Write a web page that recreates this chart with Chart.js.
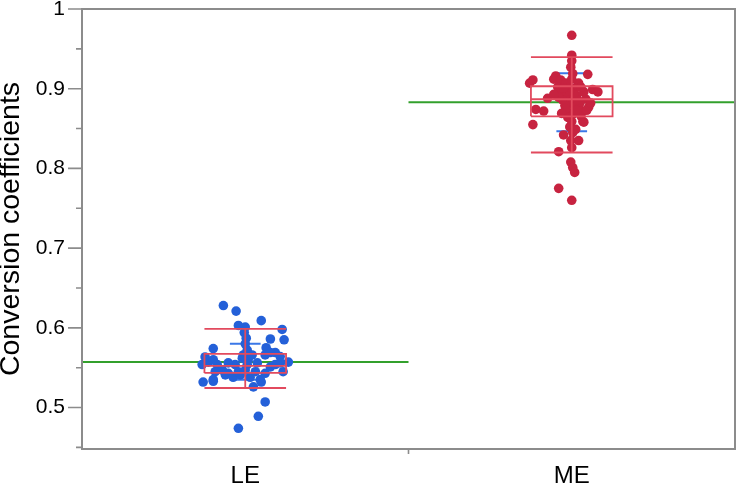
<!DOCTYPE html>
<html>
<head>
<meta charset="utf-8">
<script src="https://cdn.jsdelivr.net/npm/chart.js@4"></script>
<style>
  html, body { margin: 0; padding: 0; background: #fff; }
  #wrap { width: 737px; height: 488px; }
</style>
</head>
<body>
<div id="wrap"><canvas id="chart"></canvas></div>
<script>
// ================= DATA =================
const categories = ["LE", "ME"];

// jitter is the horizontal offset inside a category (1 = full category width)
const leValues = [0.628, 0.621, 0.609, 0.603, 0.601, 0.598, 0.585, 0.586, 0.574, 0.575,
  0.569, 0.564, 0.532, 0.533, 0.526, 0.532, 0.507, 0.489, 0.474, 0.594,
  0.587, 0.580, 0.572, 0.566, 0.557, 0.554, 0.560, 0.554, 0.547, 0.543,
  0.545, 0.535, 0.541, 0.538, 0.545, 0.547, 0.538, 0.545, 0.535, 0.543,
  0.551, 0.554, 0.556, 0.545, 0.557, 0.560, 0.562, 0.566, 0.566, 0.569,
  0.554, 0.556, 0.556, 0.554, 0.541, 0.5635];
const leJitter = [-0.067, -0.028, 0.049, -0.021, 0, 0.113, 0.119, 0.077, -0.098, 0.064,
  0.092, 0.107, -0.129, -0.098, 0.025, 0.049, 0.061, 0.040, -0.021, -0.003,
  0.003, 0, 0.006, -0.006, -0.113, -0.132, -0.098, -0.086, -0.070, -0.052,
  -0.092, -0.098, -0.061, -0.037, -0.021, 0, 0.015, 0.031, 0.046, 0.061,
  0.077, 0.092, 0.107, 0.116, 0.132, 0.009, -0.009, 0.021, 0.061, 0.077,
  -0.031, -0.052, 0.037, 0.006, -0.015, -0.123];

const meValues = [0.967, 0.942, 0.935, 0.927, 0.918, 0.919, 0.911, 0.907, 0.916, 0.912,
  0.911, 0.907, 0.907, 0.902, 0.901, 0.896, 0.899, 0.896, 0.888, 0.894,
  0.892, 0.891, 0.887, 0.886, 0.883, 0.882, 0.877, 0.879, 0.877, 0.872,
  0.872, 0.874, 0.872, 0.868, 0.859, 0.855, 0.864, 0.859, 0.858, 0.852,
  0.842, 0.845, 0.835, 0.835, 0.826, 0.821, 0.808, 0.801, 0.795, 0.775,
  0.760, 0.889, 0.886, 0.875, 0.866, 0.893, 0.869, 0.873, 0.897, 0.902,
  0.873, 0.901, 0.882, 0.893, 0.902, 0.864, 0.849, 0.912];
const meJitter = [0, 0, 0, -0.003, 0.049, 0.003, -0.119, -0.129, -0.049, -0.055,
  -0.034, -0.018, 0.021, -0.009, 0.012, 0.037, 0.064, 0.080, -0.074, -0.034,
  -0.015, 0.015, 0.043, -0.028, -0.003, 0.025, 0.052, -0.021, 0.009, 0.034,
  -0.015, -0.110, -0.086, 0.003, 0.034, -0.119, -0.012, 0, 0.037, -0.006,
  -0.025, 0.003, 0.021, -0.003, 0, -0.040, -0.003, 0.003, 0.009, -0.040,
  0, -0.040, 0.018, -0.018, 0.028, 0.006, -0.031, 0.046, -0.006, -0.043,
  0.015, -0.025, 0.058, -0.055, 0.028, -0.009, 0.012, 0];

const meanValues = [0.557, 0.883];
const sdLow = [0.535, 0.8465];
const sdHigh = [0.580, 0.9195];
const boxQ1 = [0.5434, 0.8654];
const boxMedian = [0.5522, 0.8868];
const boxQ3 = [0.5673, 0.9031];
const whiskerLow = [0.5245, 0.820];
const whiskerHigh = [0.5987, 0.9396];

const yMajorTicks = [0.5, 0.6, 0.7, 0.8, 0.9, 1];
const yMinorTicks = [0.45, 0.55, 0.65, 0.75, 0.85, 0.95];

// ================= STYLE =================
const FONT = '"Liberation Sans", Arial, Helvetica, sans-serif';
const FRAME = "#8c8c8c";
const pointColors = ["#2460d8", "#c72340"];
const BOX_COLOR = "#e24a5e";
const SD_COLOR = "#3b78e7";
const MEAN_COLOR = "#33a02c";
const BOX_HALF = 0.125;
const SD_HALF = 0.047;

// ================= DATASETS =================
function center(i) { return i + 0.5; }

function boxPath(i) {
  const c = center(i), l = c - BOX_HALF, r = c + BOX_HALF;
  const gap = { x: c, y: null };
  return [
    { x: l, y: boxQ1[i] }, { x: r, y: boxQ1[i] }, { x: r, y: boxQ3[i] }, { x: l, y: boxQ3[i] }, { x: l, y: boxQ1[i] },
    gap,
    { x: l, y: boxMedian[i] }, { x: r, y: boxMedian[i] },
    gap,
    { x: l, y: whiskerLow[i] }, { x: r, y: whiskerLow[i] },
    gap,
    { x: l, y: whiskerHigh[i] }, { x: r, y: whiskerHigh[i] },
    gap,
    { x: c, y: whiskerLow[i] }, { x: c, y: whiskerHigh[i] }
  ];
}

function sdPath(i) {
  const c = center(i);
  return [
    { x: c - SD_HALF, y: sdLow[i] }, { x: c + SD_HALF, y: sdLow[i] },
    { x: c, y: null },
    { x: c - SD_HALF, y: sdHigh[i] }, { x: c + SD_HALF, y: sdHigh[i] }
  ];
}

function meanPath(i) {
  return [{ x: i, y: meanValues[i] }, { x: i + 1, y: meanValues[i] }];
}

const lineBase = { showLine: true, pointRadius: 0, spanGaps: false, fill: false };
const datasets = [];

[leValues, meValues].forEach((vals, i) => {
  const jit = i === 0 ? leJitter : meJitter;
  datasets.push({
    label: categories[i],
    data: vals.map((v, k) => ({ x: center(i) + jit[k], y: v })),
    pointRadius: 4.8,
    pointBorderWidth: 0,
    pointBackgroundColor: pointColors[i],
    order: 1
  });
  datasets.push(Object.assign({ data: boxPath(i), borderColor: BOX_COLOR, borderWidth: 1.8, order: 0 }, lineBase));
  datasets.push(Object.assign({ data: sdPath(i), borderColor: SD_COLOR, borderWidth: 2, order: 2 }, lineBase));
  datasets.push(Object.assign({ data: meanPath(i), borderColor: MEAN_COLOR, borderWidth: 2, order: 3 }, lineBase));
});

// ================= FRAME & TICK MARKS =================
const framePlugin = {
  id: "frame",
  afterDraw(chart) {
    const { ctx, chartArea: a, scales } = chart;
    ctx.save();
    ctx.strokeStyle = FRAME;
    ctx.lineWidth = 2;
    ctx.strokeRect(a.left, a.top, a.right - a.left, a.bottom - a.top);
    ctx.lineWidth = 1.6;
    ctx.beginPath();
    yMajorTicks.forEach(v => {
      const y = scales.y.getPixelForValue(v);
      ctx.moveTo(a.left - 14, y); ctx.lineTo(a.left, y);
    });
    yMinorTicks.forEach(v => {
      const y = scales.y.getPixelForValue(v);
      ctx.moveTo(a.left - 6, y); ctx.lineTo(a.left, y);
    });
    for (let i = 1; i < categories.length; i++) {
      const x = scales.x.getPixelForValue(i);
      ctx.moveTo(x, a.bottom); ctx.lineTo(x, a.bottom + 5);
    }
    ctx.stroke();
    ctx.restore();
  }
};

// ================= CHART =================
new Chart(document.getElementById("chart"), {
  type: "scatter",
  data: { datasets: datasets },
  options: {
    responsive: true,
    maintainAspectRatio: false,
    animation: false,
    layout: { autoPadding: false, padding: { top: 9, right: 2, bottom: 0, left: 0 } },
    plugins: { legend: { display: false }, tooltip: { enabled: false } },
    scales: {
      x: {
        type: "linear",
        min: 0,
        max: categories.length,
        grid: { display: false, drawTicks: false },
        border: { display: false },
        afterBuildTicks: s => { s.ticks = categories.map((c, i) => ({ value: center(i) })); },
        afterFit: s => { s.height = 39; s.paddingLeft = 0; s.paddingRight = 0; },
        ticks: {
          autoSkip: false,
          maxRotation: 0,
          padding: 13,
          color: "#000",
          font: { family: FONT, size: 24 },
          callback: v => categories[Math.round(v - 0.5)]
        }
      },
      y: {
        min: 0.448,
        max: 1.0,
        grid: { display: false, drawTicks: false },
        border: { display: false },
        afterBuildTicks: s => { s.ticks = yMajorTicks.map(v => ({ value: v })); },
        afterFit: s => { s.width = 82; s.paddingTop = 0; s.paddingBottom = 0; },
        ticks: {
          autoSkip: false,
          padding: 17,
          color: "#000",
          font: { family: FONT, size: 21 },
          callback: v => String(+v.toFixed(2))
        },
        title: {
          display: true,
          text: "Conversion coefficients",
          color: "#000",
          padding: 0,
          font: { family: FONT, size: 28.5, lineHeight: 0.8 }
        }
      }
    }
  },
  plugins: [framePlugin]
});
</script>
</body>
</html>
